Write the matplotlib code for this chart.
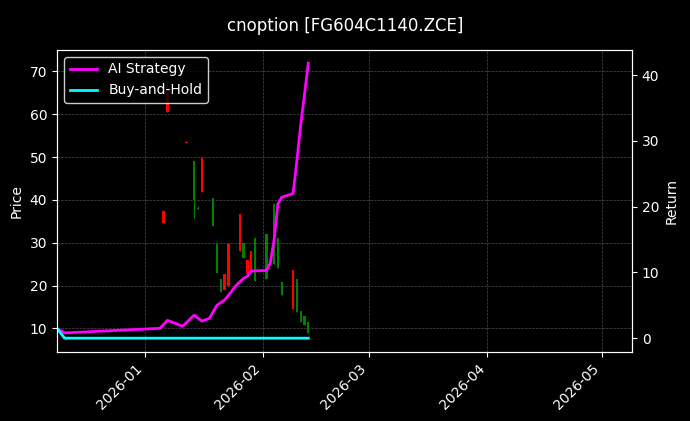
import matplotlib
matplotlib.use("Agg")
import matplotlib.pyplot as plt
import matplotlib.dates as mdates
from matplotlib.ticker import MultipleLocator
import pandas as pd

plt.style.use("dark_background")

candle_dates = ["2026-01-06","2026-01-07","2026-01-12","2026-01-14","2026-01-15","2026-01-16",
                "2026-01-19","2026-01-20","2026-01-21","2026-01-22","2026-01-23","2026-01-26",
                "2026-01-27","2026-01-28","2026-01-29","2026-01-30","2026-02-02","2026-02-04",
                "2026-02-05","2026-02-06","2026-02-09","2026-02-10","2026-02-11","2026-02-12","2026-02-13"]
opens  = [37.5, 65.0, 53.6, 40.0, 38.2, 41.8, 34.0, 23.0, 18.5, 19.0, 20.0, 28.0, 26.4, 22.8, 23.3, 21.0, 21.6, 25.0, 24.0, 17.8, 14.5, 13.8, 11.4, 10.7, 9.0]
closes = [34.5, 60.5, 53.4, 49.0, 37.8, 49.8, 40.5, 29.6, 21.6, 22.6, 29.7, 36.8, 30.0, 26.0, 28.0, 31.0, 32.0, 39.0, 31.0, 20.9, 23.7, 21.6, 14.0, 13.0, 11.4]
highs  = [37.5, 68.0, 53.8, 49.0, 38.5, 49.8, 40.5, 29.6, 21.6, 22.6, 29.7, 36.8, 30.0, 26.0, 28.0, 31.0, 32.0, 39.0, 31.0, 20.9, 23.7, 21.6, 14.0, 13.0, 11.4]
lows   = [34.5, 60.5, 53.4, 35.8, 37.8, 41.8, 34.0, 23.0, 18.5, 19.0, 20.0, 28.0, 26.4, 22.8, 23.3, 21.0, 21.6, 25.0, 24.0, 17.8, 14.5, 13.8, 11.4, 10.7, 9.0]
candle_colors = ["red","red","red","green","green","red","green","green","green","red","red","red",
                 "green","red","red","green","green","green","green","green","red","green","green","green","green"]

line_dates = ["2025-12-09","2025-12-11","2026-01-05","2026-01-07","2026-01-08","2026-01-11","2026-01-14",
              "2026-01-16","2026-01-18","2026-01-20","2026-01-22","2026-01-23","2026-01-25","2026-01-27",
              "2026-01-28","2026-01-29","2026-02-02","2026-02-03","2026-02-04","2026-02-05","2026-02-06",
              "2026-02-09","2026-02-10","2026-02-11","2026-02-13"]
strategy = [1.5, 0.8, 1.5, 2.7, 2.5, 1.8, 3.5, 2.6, 3.0, 5.0, 5.8, 6.5, 8.0, 9.1, 9.4, 10.2, 10.3, 11.4, 14.9, 20.4, 21.4, 22.0, 27.0, 32.4, 41.8]
buyhold = [1.5, 0.0] + [0.0] * (len(line_dates) - 2)

fig = plt.figure(figsize=(6.9, 4.21), dpi=100)
ax = fig.add_axes([57/690, 1-352/421, (632-57)/690, (352-50)/421])
ax2 = ax.twinx()

cd = mdates.date2num(pd.to_datetime(candle_dates))
for x, o, c, h, l, col in zip(cd, opens, closes, highs, lows, candle_colors):
    ax.vlines(x, l, h, color=col, linewidth=0.8)
    ax.bar(x, abs(c - o) if abs(c-o) > 0.2 else 0.2, bottom=min(o, c), width=0.6, color=col)

ld = mdates.date2num(pd.to_datetime(line_dates))
l1, = ax2.plot(ld, strategy, color="magenta", linewidth=2, label="AI Strategy")
l2, = ax2.plot(ld, buyhold, color="cyan", linewidth=2, label="Buy-and-Hold")

ax.set_ylim(4.5, 75)
ax2.set_ylim(-2.1, 43.8)
ax2.yaxis.set_major_locator(MultipleLocator(10))
ax.set_xlim(mdates.date2num(pd.Timestamp("2025-12-09")), mdates.date2num(pd.Timestamp("2026-05-09")))
ax.xaxis.set_major_locator(mdates.MonthLocator())
ax.xaxis.set_major_formatter(mdates.DateFormatter("%Y-%m"))
plt.setp(ax.get_xticklabels(), rotation=45, ha="right")
ax.set_ylabel("Price")
ax2.set_ylabel("Return")
ax.grid(True, color="gray", linestyle="--", linewidth=0.5, alpha=0.6)
ax2.legend(handles=[l1, l2], loc="upper left", edgecolor="white")
fig.suptitle("cnoption [FG604C1140.ZCE]", y=0.96)
fig.savefig("out.png", dpi=100)
